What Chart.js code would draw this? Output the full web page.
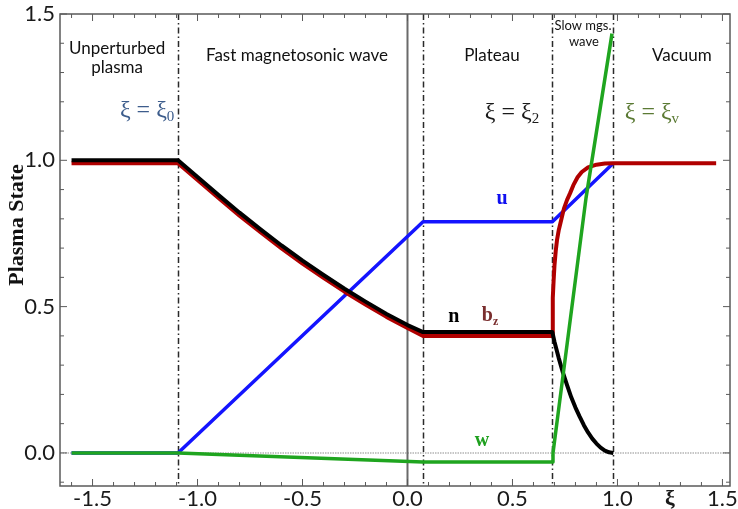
<!DOCTYPE html>
<html>
<head>
<meta charset="utf-8">
<script src="https://cdn.jsdelivr.net/npm/chart.js@4.4.1/dist/chart.umd.min.js"></script>
<style>
  html, body { margin: 0; padding: 0; background: #fff; }
  #wrap { width: 738px; height: 509px; }
</style>
</head>
<body>
<div id="wrap"><canvas id="chartPlasma" width="738" height="509"></canvas></div>
<script>
// Plasma state along the self-similar coordinate xi
const xiN = [-1.6, -1.093, -1.0, -0.9, -0.8, -0.7, -0.6, -0.5, -0.4, -0.3, -0.2, -0.1, 0.0, 0.074,
    0.69, 0.70, 0.72, 0.74, 0.76, 0.78, 0.80, 0.82, 0.84, 0.86, 0.88, 0.90, 0.92, 0.94, 0.96, 0.98];
const nVals = [1.0, 1.0, 0.943, 0.881, 0.821, 0.764, 0.709, 0.657, 0.608, 0.561, 0.517, 0.475, 0.437, 0.413,
    0.413, 0.38, 0.325, 0.275, 0.232, 0.19, 0.155, 0.124, 0.095, 0.07, 0.049, 0.032, 0.018, 0.008, 0.002, 0.0];

const xiB = [-1.6, -1.093, -1.0, -0.9, -0.8, -0.7, -0.6, -0.5, -0.4, -0.3, -0.2, -0.1, 0.0, 0.074,
    0.69, 0.691, 0.693, 0.696, 0.70, 0.706, 0.712, 0.72, 0.73, 0.745, 0.76, 0.774, 0.79, 0.81, 0.83, 0.86, 0.90, 0.94, 0.98, 1.47];
const bVals = [0.99, 0.99, 0.933, 0.871, 0.811, 0.754, 0.699, 0.647, 0.598, 0.551, 0.507, 0.465, 0.427, 0.40,
    0.40, 0.46, 0.53, 0.59, 0.64, 0.69, 0.727, 0.76, 0.79, 0.835, 0.865, 0.887, 0.915, 0.942, 0.96, 0.976, 0.985, 0.989, 0.99, 0.99];

const xiU = [-1.6, -1.093, 0.074, 0.69, 0.98];
const uVals = [0, 0, 0.79, 0.79, 0.99];

const xiW = [-1.6, -1.093, 0.074, 0.69, 0.693, 0.85, 0.974];
const wVals = [0, 0, -0.031, -0.031, 0.0, 0.87, 1.433];

// region boundaries xi0, xi1, xi2, xiv
const boundaries = [-1.093, 0.074, 0.69, 0.98];

const xTicks = [-1.5, -1.0, -0.5, 0.0, 0.5, 1.0, 1.5];
const yTicks = [0.0, 0.5, 1.0, 1.5];
const xiLabelAt = 1.25;

const toXY = (xs, ys) => xs.map((x, i) => ({ x: x, y: ys[i] }));

const sans = '"Lato", "Open Sans", sans-serif';
const serif = '"Liberation Serif", "DejaVu Serif", serif';

function line(ctx, x1, y1, x2, y2) {
    ctx.beginPath();
    ctx.moveTo(x1, y1);
    ctx.lineTo(x2, y2);
    ctx.stroke();
}

// main text + subscript, centred on (x, y)
function subText(ctx, x, y, main, sub, size, color, bold) {
    const w = bold ? 'bold ' : '';
    ctx.font = w + size + 'px ' + serif;
    const mw = ctx.measureText(main).width;
    ctx.font = w + Math.round(size * 0.62) + 'px ' + serif;
    const sw = ctx.measureText(sub).width;
    const left = x - (mw + sw) / 2;
    ctx.fillStyle = color;
    ctx.textAlign = 'left';
    ctx.textBaseline = 'middle';
    ctx.font = w + size + 'px ' + serif;
    ctx.fillText(main, left, y);
    ctx.font = w + Math.round(size * 0.62) + 'px ' + serif;
    ctx.fillText(sub, left + mw, y + size * 0.28);
}

const decorations = {
    id: 'decorations',
    beforeDatasetsDraw(chart) {
        const { ctx, chartArea: a, scales: { x, y } } = chart;
        ctx.save();
        // y = 0 reference
        ctx.strokeStyle = '#b4b4b4';
        ctx.lineWidth = 1.5;
        ctx.setLineDash([1.5, 1]);
        const y0 = y.getPixelForValue(0);
        line(ctx, a.left, y0, a.right, y0);
        // xi = 0 axis
        ctx.setLineDash([]);
        ctx.strokeStyle = '#6a6a6a';
        ctx.lineWidth = 2;
        const x0 = x.getPixelForValue(0);
        line(ctx, x0, a.top, x0, a.bottom);
        // dash-dot region boundaries
        ctx.strokeStyle = '#2a2a2a';
        ctx.lineWidth = 1.5;
        ctx.setLineDash([6, 3, 1.5, 3]);
        boundaries.forEach(b => {
            const px = Math.round(x.getPixelForValue(b)) + 0.5;
            line(ctx, px, a.top, px, a.bottom);
        });
        ctx.restore();
    },
    afterDraw(chart) {
        const { ctx, chartArea: a, scales: { x, y } } = chart;
        ctx.save();
        // frame with inward ticks
        ctx.strokeStyle = '#5a5a5a';
        ctx.lineWidth = 1.5;
        ctx.strokeRect(a.left, a.top, a.right - a.left, a.bottom - a.top);
        ctx.lineWidth = 1;
        for (let k = -1; k <= 15; k++) {
            const py = y.getPixelForValue(k / 10);
            if (py < a.top - 1 || py > a.bottom) continue;
            const len = k % 5 === 0 ? 7 : 4;
            line(ctx, a.left, py, a.left + len, py);
            line(ctx, a.right, py, a.right - len, py);
        }
        for (let k = -16; k <= 15; k++) {
            const px = x.getPixelForValue(k / 10);
            if (px < a.left || px > a.right) continue;
            const len = k % 5 === 0 ? 7 : 4;
            line(ctx, px, a.bottom, px, a.bottom - len);
            line(ctx, px, a.top, px, a.top + len);
        }

        const at = (xv, yv) => [x.getPixelForValue(xv), y.getPixelForValue(yv)];
        ctx.textAlign = 'center';
        ctx.textBaseline = 'middle';

        // region names
        ctx.fillStyle = '#111';
        ctx.font = '17px ' + sans;
        ctx.fillText('Unperturbed', ...at(-1.383, 1.382));
        ctx.fillText('plasma', ...at(-1.383, 1.317));
        ctx.fillText('Fast magnetosonic wave', ...at(-0.526, 1.358));
        ctx.fillText('Plateau', ...at(0.402, 1.358));
        ctx.fillText('Vacuum', ...at(1.307, 1.358));
        ctx.font = '13px ' + sans;
        ctx.fillText('Slow mgs.', ...at(0.836, 1.461));
        ctx.fillText('wave', ...at(0.840, 1.406));

        // boundary markers
        subText(ctx, ...at(-1.24, 1.171), 'ξ = ξ', '0', 24, '#3d5d8c', false);
        subText(ctx, ...at(0.498, 1.164), 'ξ = ξ', '2', 24, '#1a1a1a', false);
        subText(ctx, ...at(1.164, 1.164), 'ξ = ξ', 'v', 24, '#5b7a34', false);

        // curve names
        ctx.textAlign = 'center';
        ctx.font = 'bold 20px ' + serif;
        ctx.fillStyle = '#1010f0';
        ctx.fillText('u', ...at(0.45, 0.87));
        ctx.fillStyle = '#000';
        ctx.fillText('n', ...at(0.221, 0.464));
        ctx.fillStyle = '#1fa01f';
        ctx.fillText('w', ...at(0.355, 0.041));
        subText(ctx, ...at(0.393, 0.468), 'b', 'z', 20, '#7a2e2e', true);

        // y axis title
        ctx.save();
        ctx.translate(17, 225);
        ctx.rotate(-Math.PI / 2);
        ctx.textAlign = 'center';
        ctx.textBaseline = 'middle';
        ctx.fillStyle = '#111';
        ctx.font = 'bold 22px ' + serif;
        ctx.fillText('Plasma State', 0, 0);
        ctx.restore();
        ctx.restore();
    }
};

const lineSet = (label, data, color, width) => ({
    label: label,
    data: data,
    borderColor: color,
    borderWidth: width,
    borderJoinStyle: 'round',
    pointRadius: 0,
    showLine: true,
    fill: false,
    tension: 0
});

new Chart(document.getElementById('chartPlasma'), {
    type: 'scatter',
    data: {
        // first dataset ends up on top
        datasets: [
            lineSet('w', toXY(xiW, wVals), '#1fa51f', 3.5),
            lineSet('n', toXY(xiN, nVals), '#000000', 4),
            lineSet('bz', toXY(xiB, bVals), '#b00000', 4),
            lineSet('u', toXY(xiU, uVals), '#1414ff', 3.5)
        ]
    },
    options: {
        responsive: false,
        animation: false,
        devicePixelRatio: 1,
        layout: { padding: { top: 14, right: 8, left: 0, bottom: 0 } },
        plugins: { legend: { display: false }, tooltip: { enabled: false } },
        scales: {
            x: {
                type: 'linear',
                min: -1.655,
                max: 1.536,
                grid: { display: false, drawTicks: false },
                border: { display: false },
                afterBuildTicks: s => {
                    s.ticks = xTicks.concat([xiLabelAt]).map(v => ({ value: v }));
                },
                afterFit: s => {
                    s.height = 23;
                    s.paddingLeft = 0;
                    s.paddingRight = 0;
                },
                ticks: {
                    autoSkip: false,
                    maxRotation: 0,
                    padding: 0,
                    color: '#1a1a1a',
                    font: c => (c.tick && c.tick.value === xiLabelAt)
                        ? { family: serif, size: 22, weight: 'bold' }
                        : { family: sans, size: 22 },
                    callback: v => v === xiLabelAt ? 'ξ' : v.toFixed(1)
                }
            },
            y: {
                type: 'linear',
                min: -0.113,
                max: 1.5,
                grid: { display: false, drawTicks: false },
                border: { display: false },
                afterBuildTicks: s => {
                    s.ticks = yTicks.map(v => ({ value: v }));
                },
                afterFit: s => {
                    s.width = 60;
                    s.paddingTop = 0;
                    s.paddingBottom = 0;
                },
                ticks: {
                    padding: 5,
                    color: '#1a1a1a',
                    font: { family: sans, size: 22 },
                    callback: v => v.toFixed(1)
                }
            }
        }
    },
    plugins: [decorations]
});
</script>
</body>
</html>
